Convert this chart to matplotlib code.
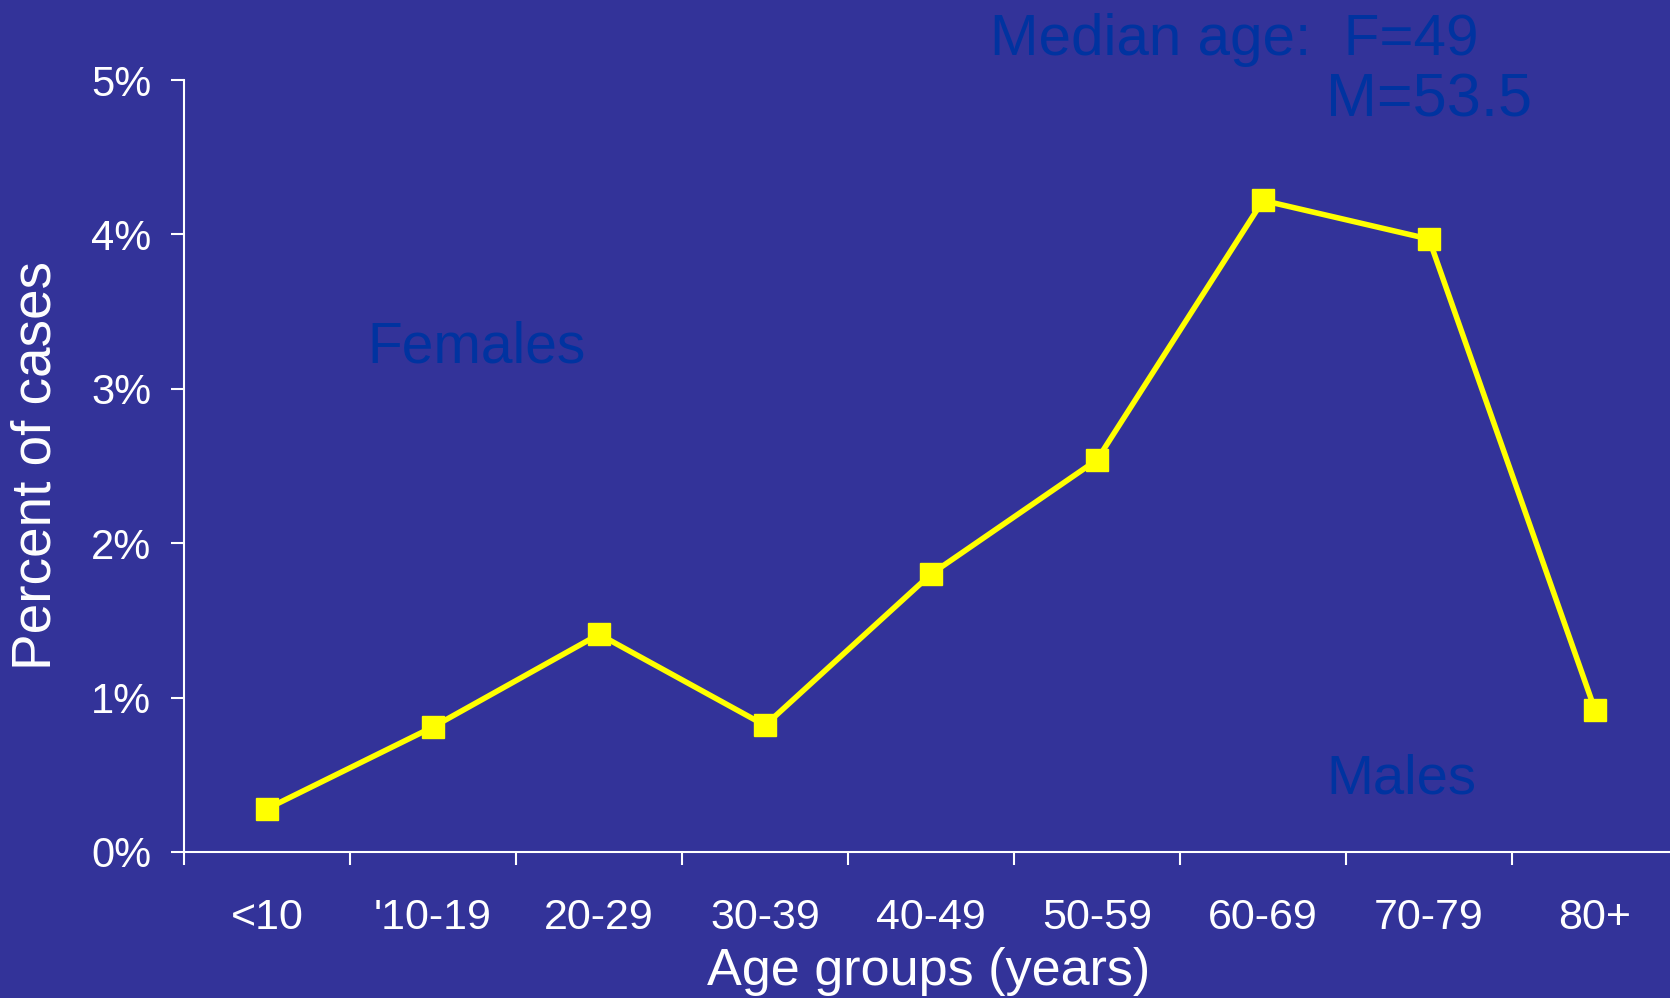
import matplotlib
matplotlib.use("Agg")
import matplotlib.pyplot as plt
import matplotlib.ticker as mtick

age_groups = ["<10", "'10-19", "20-29", "30-39", "40-49", "50-59", "60-69", "70-79", "80+"]
pct_cases = [0.28, 0.81, 1.41, 0.82, 1.80, 2.54, 4.22, 3.97, 0.92]

bg = "#333399"
note_col = "#0033A0"
font = "Liberation Sans"

plt.rcParams['font.family'] = [font, 'DejaVu Sans']

fig = plt.figure(figsize=(16.7, 9.98), dpi=100, facecolor=bg)
ax = fig.add_axes([0.1102, 0.1463, 0.8946, 0.7735])
ax.set_facecolor(bg)

xpos = [i + 0.5 for i in range(len(age_groups))]
ax.plot(xpos, pct_cases, color="#FFFF00", lw=4, marker="s", ms=16.5,
        markerfacecolor="#FFFF00", markeredgecolor="#FFFF00", clip_on=False, zorder=3)

ax.set_xlim(0, len(age_groups))
ax.set_ylim(0, 5)

# ticks on the category boundaries, labels in the middle
ax.set_xticks(range(len(age_groups) + 1))
ax.set_xticklabels([])
ax.set_xticks(xpos, minor=True)
ax.set_xticklabels(age_groups, minor=True)
ax.tick_params(axis='x', which='major', length=9, width=1.5, color='white', direction='out')
ax.tick_params(axis='x', which='minor', length=0, pad=33, labelsize=31, labelcolor='white')

ax.set_yticks(range(6))
ax.yaxis.set_major_formatter(mtick.FuncFormatter(lambda v, p: "%d%%" % v))
ax.tick_params(axis='y', length=9.5, width=1.5, color='white', pad=14,
               labelsize=30, labelcolor='white')

for s in ['top', 'right']:
    ax.spines[s].set_visible(False)
for s in ['left', 'bottom']:
    ax.spines[s].set_color('white')
    ax.spines[s].set_linewidth(1.5)

fig.text(0.022, 0.534, "Percent of cases", rotation=90, ha='center', va='center',
         color='white', fontsize=39.5)
fig.text(0.556, 0.027, "Age groups (years)", ha='center', va='center',
         color='white', fontsize=37.5)

fig.text(0.593, 0.945, "Median age:  F=49", ha='left', va='baseline',
         color=note_col, fontsize=42)
fig.text(0.794, 0.883, "M=53.5", ha='left', va='baseline',
         color=note_col, fontsize=44)
fig.text(0.220, 0.637, "Females", ha='left', va='baseline',
         color=note_col, fontsize=41)
fig.text(0.794, 0.205, "Males", ha='left', va='baseline',
         color=note_col, fontsize=40.5)

fig.savefig("out.png", dpi=100, facecolor=bg)
